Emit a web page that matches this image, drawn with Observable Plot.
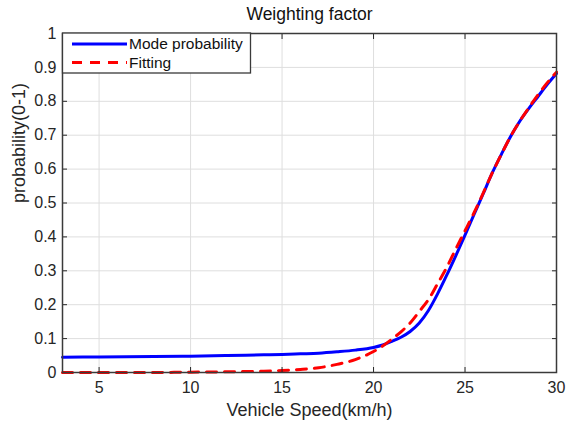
<!DOCTYPE html>
<html>
<head>
<meta charset="utf-8">
<script src="https://cdn.jsdelivr.net/npm/d3@7"></script>
<script src="https://cdn.jsdelivr.net/npm/@observablehq/plot@0.6"></script>
<style>
  html, body { margin: 0; padding: 0; background: #fff; }
  #chart svg { display: block; }
</style>
</head>
<body>
<div id="chart"></div>
<script>
// Vehicle speed samples (km/h)
const speed = [3, 5, 8, 10, 12, 14, 15, 16, 17, 18, 19, 20, 20.5, 21, 21.5, 22, 22.5, 23, 23.5, 24, 24.5, 25, 25.5, 26, 26.5, 27, 27.5, 28, 28.5, 29, 29.5, 30];
// Mode probability at each speed
const modeProbability = [0.045, 0.046, 0.047, 0.048, 0.050, 0.052, 0.053, 0.055, 0.057, 0.061, 0.066, 0.074, 0.081, 0.092, 0.104, 0.121, 0.146, 0.183, 0.232, 0.287, 0.345, 0.405, 0.467, 0.528, 0.590, 0.645, 0.697, 0.742, 0.780, 0.815, 0.850, 0.882];
// Fitted curve at each speed
const fitting = [0.000, 0.000, 0.000, 0.001, 0.002, 0.004, 0.006, 0.009, 0.014, 0.024, 0.038, 0.062, 0.078, 0.098, 0.120, 0.146, 0.180, 0.215, 0.262, 0.310, 0.365, 0.418, 0.472, 0.530, 0.590, 0.645, 0.697, 0.742, 0.782, 0.820, 0.855, 0.886];

const xTicks = [5, 10, 15, 20, 25, 30];
const yTicks = [0, 0.1, 0.2, 0.3, 0.4, 0.5, 0.6, 0.7, 0.8, 0.9, 1];
const yTickLabels = ["0", "0.1", "0.2", "0.3", "0.4", "0.5", "0.6", "0.7", "0.8", "0.9", "1"];

const titleText = "Weighting factor";
const xLabel = "Vehicle Speed(km/h)";
const yLabel = "probability(0-1)";
const seriesNames = ["Mode probability", "Fitting"];
const seriesColors = ["#0000ff", "#ff0000"];

const modeRows = speed.map((s, i) => ({speed: s, p: modeProbability[i]}));
const fitRows = speed.map((s, i) => ({speed: s, p: fitting[i]}));

const axisColor = "#262626";
const font = "'Liberation Sans', Arial, Helvetica, sans-serif";

const chart = Plot.plot({
  width: 566,
  height: 422,
  marginLeft: 62,
  marginRight: 10,
  marginTop: 33,
  marginBottom: 50,
  style: {fontFamily: font, fontSize: "16px", color: axisColor, background: "#fff", overflow: "visible"},
  x: {domain: [3, 30]},
  y: {domain: [0, 1]},
  marks: [
    Plot.gridX(xTicks, {stroke: "#dedede", strokeOpacity: 1, strokeWidth: 1}),
    Plot.gridY(yTicks, {stroke: "#dedede", strokeOpacity: 1, strokeWidth: 1}),
    Plot.line(modeRows, {x: "speed", y: "p", stroke: seriesColors[0], strokeWidth: 3, curve: "monotone-x"}),
    Plot.line(fitRows, {x: "speed", y: "p", stroke: seriesColors[1], strokeWidth: 3, strokeDasharray: "10,8", curve: "monotone-x"}),
    Plot.axisX(xTicks, {anchor: "bottom", tickSize: -5, tickPadding: 14, label: null, stroke: axisColor, fill: axisColor}),
    Plot.axisX(xTicks, {anchor: "top", tickSize: -5, tickFormat: () => "", label: null, stroke: axisColor}),
    Plot.axisY(yTicks, {anchor: "left", tickSize: -5, tickPadding: 11, tickFormat: (d, i) => yTickLabels[i], label: null, stroke: axisColor, fill: axisColor}),
    Plot.axisY(yTicks, {anchor: "right", tickSize: -5, tickFormat: () => "", label: null, stroke: axisColor}),
    Plot.frame({stroke: "#3a3a3a", strokeWidth: 1.5}),
    Plot.text([titleText], {frameAnchor: "top", lineAnchor: "middle", dy: -19, fontSize: 17.5, fill: "#111", fontFamily: font}),
    Plot.text([xLabel], {frameAnchor: "bottom", lineAnchor: "middle", dy: 38, fontSize: 18, fill: axisColor, fontFamily: font}),
    Plot.text([yLabel], {frameAnchor: "left", dx: -43, rotate: -90, fontSize: 18, fill: axisColor, fontFamily: font})
  ]
});

// Legend box in the upper-left corner of the axes
const svg = d3.select(chart);
const legend = svg.append("g")
  .attr("font-family", font).attr("font-size", 15.5).attr("text-anchor", "start");
legend.append("rect")
  .attr("x", 62.5).attr("y", 33).attr("width", 188).attr("height", 40)
  .attr("fill", "#fff").attr("stroke", "#3a3a3a").attr("stroke-width", 1.3);
seriesNames.forEach((name, i) => {
  const y = 44 + i * 18.5;
  legend.append("line")
    .attr("x1", 72).attr("x2", 127).attr("y1", y).attr("y2", y)
    .attr("stroke", seriesColors[i]).attr("stroke-width", 3)
    .attr("stroke-dasharray", i === 1 ? "10,8" : null);
  legend.append("text")
    .attr("x", 129).attr("y", y).attr("dy", "0.35em")
    .attr("fill", "#111").text(name);
});

document.getElementById("chart").appendChild(chart);
</script>
</body>
</html>
